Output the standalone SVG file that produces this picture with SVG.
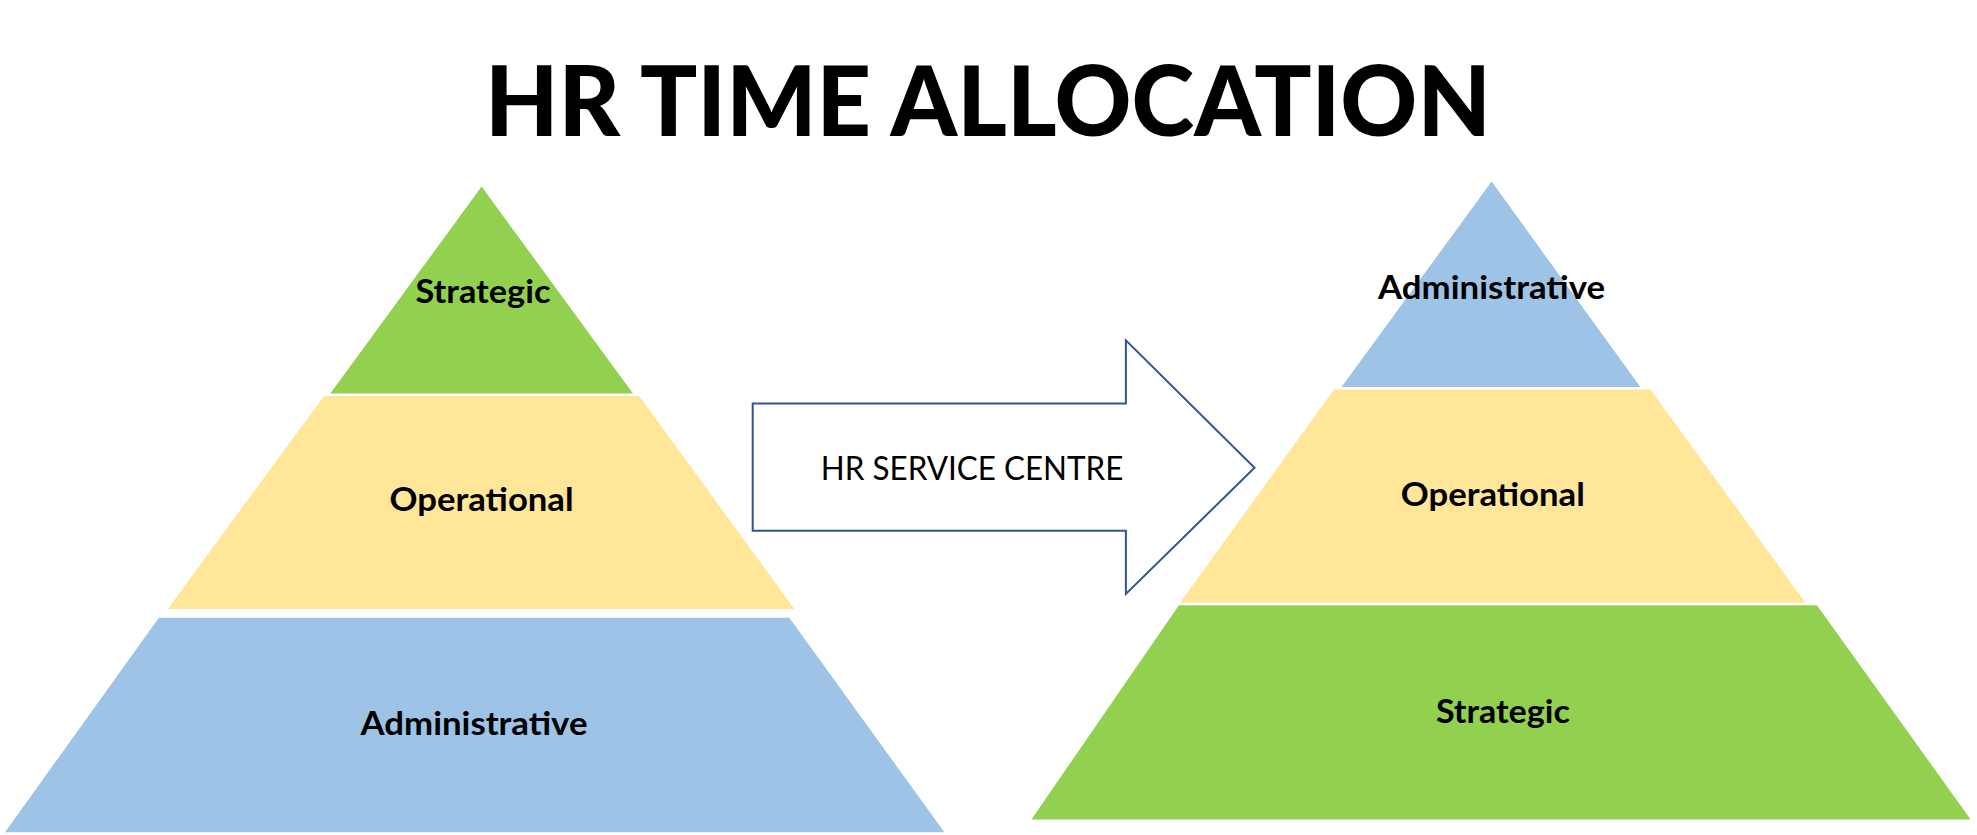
<svg xmlns="http://www.w3.org/2000/svg" width="1977" height="835" viewBox="0 0 1977 835">
<style>
.g{fill:#92D050}.y{fill:#FFE699}.b{fill:#9DC3E6}
.lbl{font-family:Lato,"Open Sans","Liberation Sans",sans-serif;font-weight:bold;font-size:33px;fill:#000;text-anchor:middle}
.title{font-family:Lato,"Open Sans","Liberation Sans",sans-serif;font-weight:900;font-size:98px;fill:#000}
.arr{fill:#fff;stroke:#2F5597;stroke-width:2}
.at{font-family:Lato,"Open Sans","Liberation Sans",sans-serif;font-size:33px;fill:#000}
</style>
<rect width="1977" height="835" fill="#fff"/>
<text class="title" x="485" y="136" textLength="1006" lengthAdjust="spacingAndGlyphs">HR TIME ALLOCATION</text>
<g id="left-pyramid">
<g id="left-strategic"><polygon class="g" points="481.6,186.6 633,393.4 330.3,393.4"/><text class="lbl" x="483" y="302.6" textLength="135" lengthAdjust="spacingAndGlyphs">Strategic</text></g>
<g id="left-operational"><polygon class="y" points="324,395.9 639.2,395.9 794.3,609 167.7,609"/><text class="lbl" x="481.6" y="510.6" textLength="184" lengthAdjust="spacingAndGlyphs">Operational</text></g>
<g id="left-administrative"><polygon class="b" points="158.9,617.8 789.3,617.8 944.4,832.2 5,832.2"/><text class="lbl" x="474" y="735" textLength="227" lengthAdjust="spacingAndGlyphs">Administrative</text></g>
</g>
<g id="connectors">
<g id="arrow"><polygon class="arr" points="752.7,403.5 1125.9,403.5 1125.9,340.4 1254.5,467.8 1125.9,593.9 1125.9,530.8 752.7,530.8"/><text class="at" x="820.8" y="480.4" textLength="302.6" lengthAdjust="spacingAndGlyphs">HR SERVICE CENTRE</text></g>
</g>
<g id="right-pyramid">
<g id="right-administrative"><polygon class="b" points="1491.6,181.6 1640.4,387.1 1341.5,387.1"/><text class="lbl" x="1491.6" y="298.8" textLength="227" lengthAdjust="spacingAndGlyphs">Administrative</text></g>
<g id="right-operational"><polygon class="y" points="1334,389.6 1650.4,389.6 1805.5,602.7 1180.1,602.7"/><text class="lbl" x="1492.8" y="505.6" textLength="184" lengthAdjust="spacingAndGlyphs">Operational</text></g>
<g id="right-strategic"><polygon class="g" points="1178.9,605.2 1816.9,605.2 1970.7,819.5 1031.4,819.5"/><text class="lbl" x="1502.9" y="722.5" textLength="134" lengthAdjust="spacingAndGlyphs">Strategic</text></g>
</g>
</svg>
